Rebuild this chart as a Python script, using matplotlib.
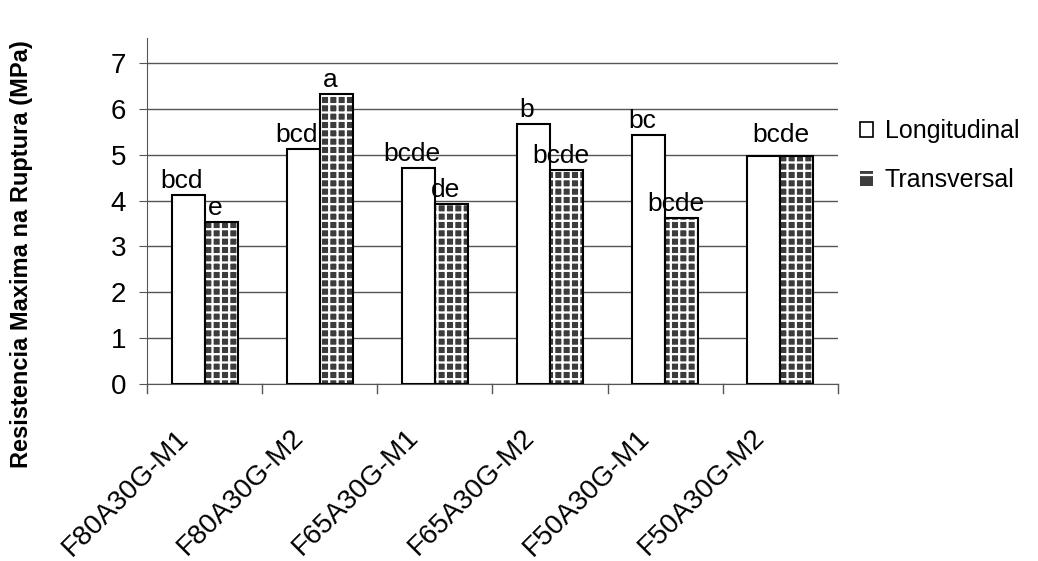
import numpy as np
import matplotlib.pyplot as plt
import matplotlib.transforms as mtransforms

categorias = ['F80A30G-M1', 'F80A30G-M2', 'F65A30G-M1', 'F65A30G-M2', 'F50A30G-M1', 'F50A30G-M2']
longitudinal = [4.12, 5.12, 4.72, 5.67, 5.43, 4.98]
transversal = [3.53, 6.33, 3.93, 4.66, 3.62, 4.98]
letras_long = ['bcd', 'bcd', 'bcde', 'b', 'bc', 'bcde']
letras_trans = ['e', 'a', 'de', 'bcde', 'bcde', '']

plt.rcParams['font.family'] = ['Liberation Sans', 'DejaVu Sans']
plt.rcParams['hatch.linewidth'] = 1.6

fig = plt.figure(figsize=(10.38, 5.61), dpi=100)
ax = fig.add_axes([0.1416, 0.3155, 0.6657, 0.617])

x = np.arange(len(categorias))
w = 0.287

ax.bar(x - w/2, longitudinal, w, color='white', edgecolor='black', linewidth=1.5, zorder=3)
ax.bar(x + w/2, transversal, w, color='#3c3c3c', edgecolor='white', hatch='++', linewidth=0, zorder=3)
ax.bar(x + w/2, transversal, w, color='none', edgecolor='black', linewidth=1.5, zorder=4)

for i in range(len(categorias)):
    if letras_trans[i] == '':
        ax.text(x[i], longitudinal[i] + 0.3, letras_long[i], ha='center', va='baseline', fontsize=19, zorder=5)
        continue
    ax.text(x[i] - w/2 - 0.06, longitudinal[i] + 0.15, letras_long[i], ha='center', va='baseline', fontsize=19, zorder=5)
    ax.text(x[i] + w/2 - 0.05, transversal[i] + 0.15, letras_trans[i], ha='center', va='baseline', fontsize=19, zorder=5)

ax.set_xlim(-0.5, len(categorias) - 0.5)
ax.set_ylim(0, 7.55)
ax.set_yticks(range(0, 8))
ax.tick_params(axis='y', labelsize=20, length=6, color='#555555', direction='out', pad=9)
ax.yaxis.grid(True, color='#555555', linewidth=1, zorder=0)

ax.set_xticks(x)
ax.set_xticklabels(categorias, rotation=45, ha='right', va='center', rotation_mode='anchor', fontsize=20)
ax.tick_params(axis='x', length=0, pad=30)
desloc = mtransforms.ScaledTranslation(-0.2, -0.08, fig.dpi_scale_trans)
for lbl in ax.get_xticklabels():
    lbl.set_transform(lbl.get_transform() + desloc)
for b in np.arange(-0.5, len(categorias), 1):
    ax.plot([b, b], [0, -0.2], color='#555555', linewidth=1, clip_on=False)

for s in ['top', 'right']:
    ax.spines[s].set_visible(False)
ax.spines['left'].set_color('#555555')
ax.spines['bottom'].set_color('#555555')

ax.set_ylabel('Resistencia Maxima na Ruptura (MPa)', fontsize=17, fontweight='bold')
ax.yaxis.set_label_coords(-0.165, 0.376)

h1 = plt.Rectangle((0, 0), 1, 1, facecolor='white', edgecolor='black', linewidth=1.2)
h2 = plt.Rectangle((0, 0), 1, 1, facecolor='#3c3c3c', edgecolor='white', hatch='+', linewidth=0)
fig.legend([h1, h2], ['Longitudinal', 'Transversal'], loc='center left', bbox_to_anchor=(0.816, 0.723),
           frameon=False, fontsize=18, borderpad=0, handlelength=0.55, handleheight=0.55,
           handletextpad=0.45, labelspacing=1.0)

fig.savefig('out.png', dpi=100)
